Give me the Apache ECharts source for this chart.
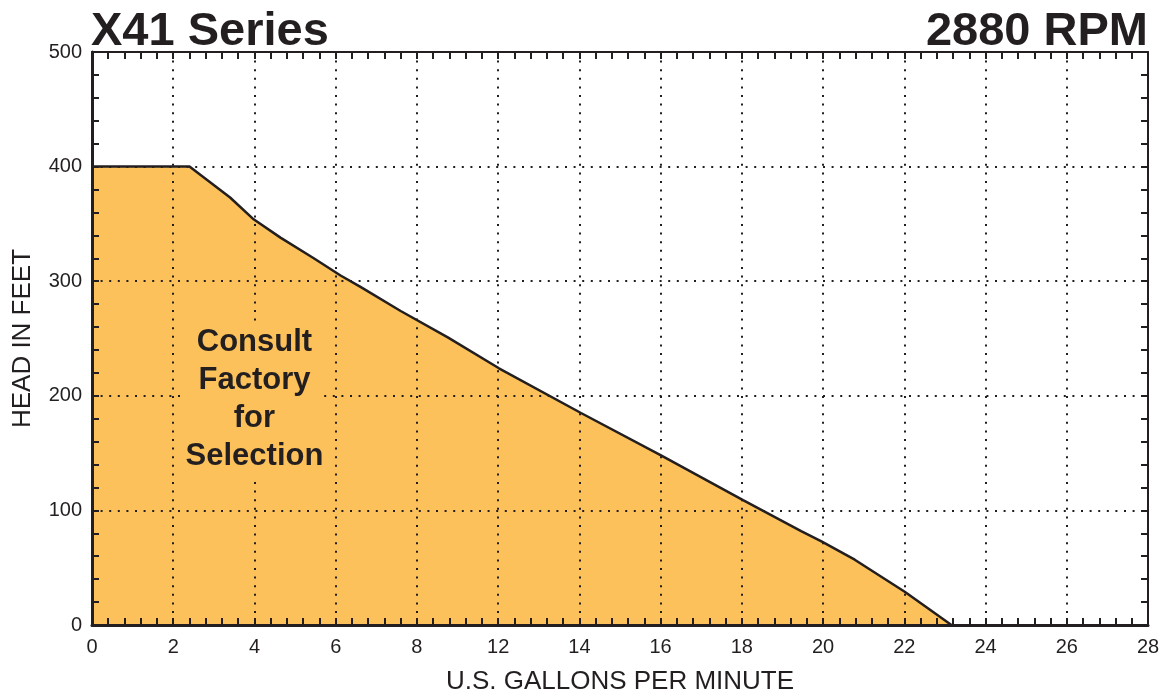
<!DOCTYPE html>
<html>
<head>
<meta charset="utf-8">
<script src="https://cdn.jsdelivr.net/npm/echarts@6/dist/echarts.min.js"></script>
<style>
  html, body { margin: 0; padding: 0; background: #ffffff; }
  #chart { width: 1165px; height: 700px; }
</style>
</head>
<body>
<div id="chart"></div>
<script>
// Tick labels exactly as printed on the original x axis (note: "10" is absent)
const xTickLabels = ['0', '2', '4', '6', '8', '12', '14', '16', '18', '20', '22', '24', '26', '28'];
const yTicks = [0, 100, 200, 300, 400, 500];

// Curve; x in axis grid units (each printed tick = 2 units)
const flowX = [0, 2.40, 3.40, 3.98, 4.64, 5.46, 6.12, 6.61, 7.60, 8.76, 10.02, 12.04, 14.01, 16.03, 17.46, 17.96, 18.78, 20.01, 21.16];
const headY = [400, 400, 373, 354, 338, 320, 305, 295, 274, 251, 224, 185, 148, 109, 82, 73, 57, 29, 0];

const titleLeft = 'X41 Series';
const titleRight = '2880 RPM';
const noteText = 'Consult\nFactory\nfor\nSelection';
const noteAt = [4.0, 197];

const ink = '#231f20';
const fill = '#fcc15a';
const font = '"Liberation Sans", Arial, Helvetica, sans-serif';

const curve = flowX.map((x, i) => [x, headY[i]]);

const dotted = { show: true, lineStyle: { color: ink, width: 2, type: [2, 6.6] } };

function xAxisBase(pos) {
  return {
    type: 'value', position: pos, min: 0, max: 26, interval: 2,
    z: 10,
    axisLine: { show: true, onZero: false, lineStyle: { color: ink, width: pos === 'bottom' ? 3 : 2 } },
    axisTick: { show: true, inside: true, length: 7, lineStyle: { color: ink, width: 2 } },
    minorTick: { show: true, splitNumber: 5, length: 7, lineStyle: { color: ink, width: 2 } },
    splitLine: { show: false }
  };
}
function yAxisBase(pos) {
  return {
    type: 'value', position: pos, min: 0, max: 500, interval: 100,
    z: 10,
    axisLine: { show: true, onZero: false, lineStyle: { color: ink, width: pos === 'left' ? 3 : 2 } },
    axisTick: { show: true, inside: true, length: 7, lineStyle: { color: ink, width: 2 } },
    minorTick: { show: true, splitNumber: 5, length: 7, lineStyle: { color: ink, width: 2 } },
    splitLine: { show: false }
  };
}

const xBottom = Object.assign(xAxisBase('bottom'), {
  name: 'U.S. GALLONS PER MINUTE',
  nameLocation: 'middle',
  nameGap: 44,
  nameTextStyle: { fontFamily: font, fontSize: 26, color: ink },
  axisLabel: {
    show: true, margin: 12, fontFamily: font, fontSize: 20, color: ink,
    formatter: v => xTickLabels[Math.round(v / 2)]
  },
  splitLine: dotted
});
const xTop = Object.assign(xAxisBase('top'), { axisLabel: { show: false } });

const yLeft = Object.assign(yAxisBase('left'), {
  name: 'HEAD IN FEET',
  nameLocation: 'middle',
  nameGap: 56,
  nameTextStyle: { fontFamily: font, fontSize: 26, color: ink },
  axisLabel: {
    show: true, margin: 10, fontFamily: font, fontSize: 20, color: ink,
    formatter: v => (yTicks.indexOf(v) >= 0 ? String(v) : '')
  },
  splitLine: dotted
});
const yRight = Object.assign(yAxisBase('right'), { axisLabel: { show: false } });

const chart = echarts.init(document.getElementById('chart'), null, { renderer: 'canvas' });
chart.setOption({
  animation: false,
  backgroundColor: '#ffffff',
  title: [
    { text: titleLeft, left: 91, top: 9, padding: 0,
      textStyle: { fontFamily: font, fontSize: 47, fontWeight: 'bold', color: ink } },
    { text: titleRight, right: 17, top: 9, padding: 0,
      textStyle: { fontFamily: font, fontSize: 47, fontWeight: 'bold', color: ink } }
  ],
  grid: { left: 92, right: 17, top: 52, bottom: 73, containLabel: false },
  xAxis: [xBottom, xTop],
  yAxis: [yLeft, yRight],
  series: [
    {
      type: 'line',
      xAxisIndex: 0, yAxisIndex: 0,
      data: curve,
      symbol: 'none',
      smooth: false,
      z: 2,
      lineStyle: { color: ink, width: 2.5 },
      areaStyle: { color: fill, opacity: 1 }
    },
    {
      type: 'scatter',
      xAxisIndex: 0, yAxisIndex: 0,
      data: [noteAt],
      symbolSize: 0,
      z: 20,
      silent: true,
      itemStyle: { opacity: 1, color: fill },
      emphasis: { disabled: true },
      label: {
        show: true, position: 'inside',
        formatter: noteText,
        fontFamily: font, fontSize: 31, fontWeight: 'bold',
        lineHeight: 38, color: ink, opacity: 1,
        backgroundColor: fill, padding: [2, 0]
      }
    }
  ]
});
</script>
</body>
</html>
